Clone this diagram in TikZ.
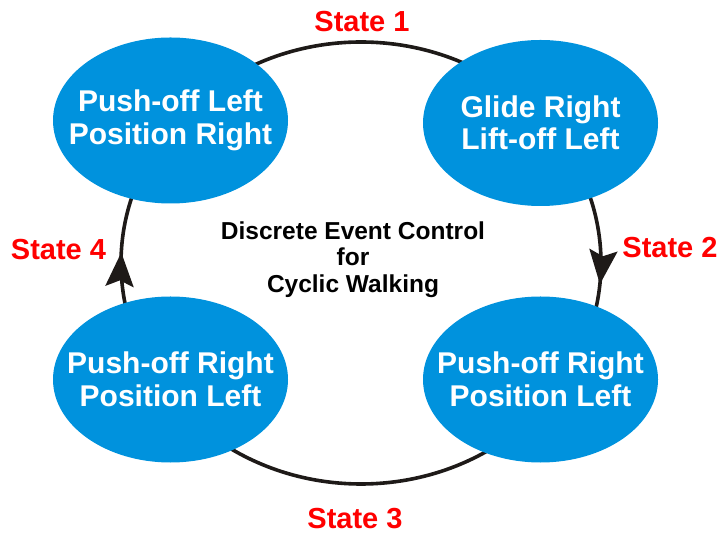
\documentclass[tikz,border=0pt]{standalone}
\usepackage{fontspec}
\setmainfont{Liberation Sans}
\usetikzlibrary{shapes.geometric,arrows.meta,decorations.markings}

\definecolor{phaseblue}{RGB}{0,146,221}
\definecolor{ringcol}{RGB}{30,26,24}
\definecolor{statered}{RGB}{255,0,0}

\tikzset{
  phase/.style={ellipse, fill=phaseblue, draw=none, inner sep=0pt,
    minimum width=235pt, minimum height=166pt},
  phasetext/.style={text=white, align=center, inner sep=0pt,
    font=\bfseries\fontsize{30}{32.5}\selectfont},
  ringarc/.style={line width=3.6pt, draw=ringcol},
  flowtip/.style={postaction={decorate}, decoration={markings,
    mark=at position #1 with {\arrow[ringcol]{Stealth[length=34pt,width=28pt,inset=6pt]}}}},
  statelabel/.style={text=statered, inner sep=0pt, anchor=base,
    font=\bfseries\fontsize{29}{31}\selectfont},
  caption/.style={align=center, inner sep=0pt,
    font=\bfseries\fontsize{24.5}{26.5}\selectfont},
}

\begin{document}
\begin{tikzpicture}[x=1pt,y=1pt]
  \useasboundingbox (0,0) rectangle (719,535);

  % centre of the walking cycle
  \coordinate (ring) at (361,272);

  % the four transitions, clockwise
  \draw[ringarc] (ring) ++(135:240 and 221) arc[start angle=135, end angle=45, x radius=240, y radius=221];
  \draw[ringarc, flowtip=0.56] (ring) ++(45:240 and 221) arc[start angle=45, end angle=-45, x radius=240, y radius=221];
  \draw[ringarc] (ring) ++(-45:240 and 221) arc[start angle=-45, end angle=-135, x radius=240, y radius=221];
  \draw[ringarc, flowtip=0.53] (ring) ++(225:240 and 221) arc[start angle=225, end angle=135, x radius=240, y radius=221];

  % phases
  \node[phase, label={[phasetext]center:Push-off Left\\Position Right}] (tl) at (170.5,414.5) {};
  \node[phase, label={[phasetext]center:Glide Right\\Lift-off Left}] (tr) at (540.5,412) {};
  \node[phase, label={[phasetext]center:Push-off Right\\Position Left}] (bl) at (170.5,155.5) {};
  \node[phase, label={[phasetext]center:Push-off Right\\Position Left}] (br) at (540.5,155.5) {};

  % state names
  \node[statelabel] (s1) at (362,503) {State 1};
  \node[statelabel] (s2) at (670,277) {State 2};
  \node[statelabel] (s3) at (355,7) {State 3};
  \node[statelabel] (s4) at (58.5,275) {State 4};

  % title in the middle
  \node[caption] (title) at (353,275.5) {Discrete Event Control\\for\\Cyclic Walking};
\end{tikzpicture}
\end{document}
